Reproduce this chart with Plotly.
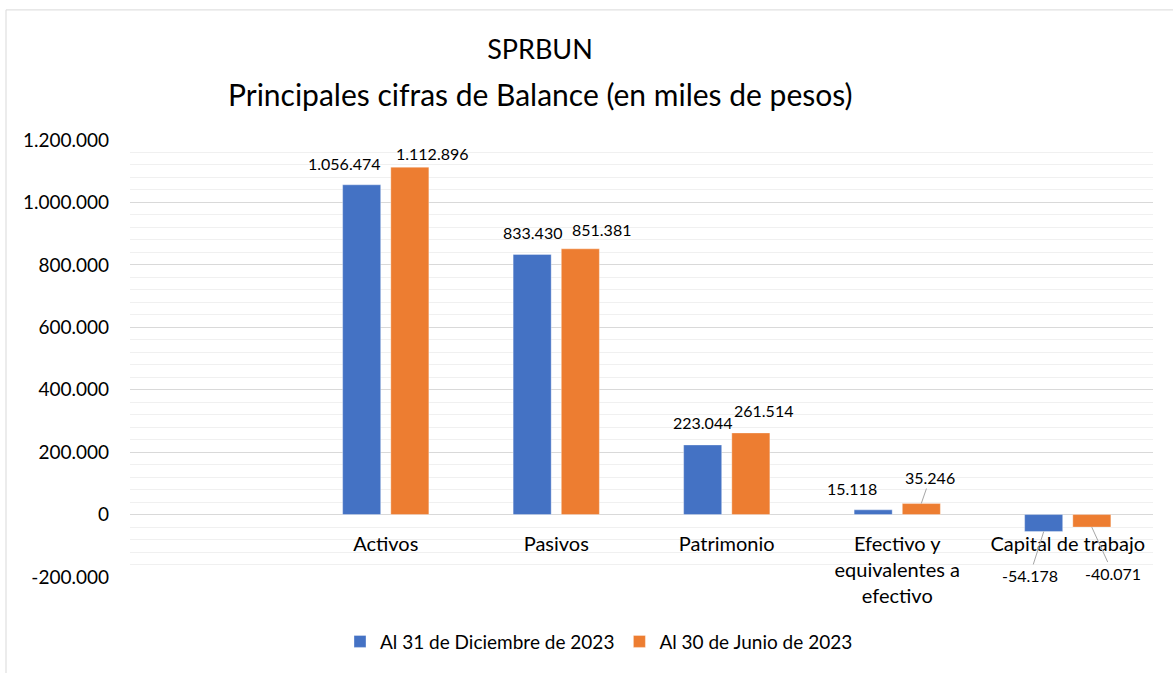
import plotly.graph_objects as go

# ---- data ----
categories = ["Activos", "Pasivos", "Patrimonio",
              "Efectivo y<br>equivalentes a<br>efectivo", "Capital de trabajo"]
dic_2023 = [1056474, 833430, 223044, 15118, -54178]
jun_2023 = [1112896, 851381, 261514, 35246, -40071]
series_names = ["Al 31 de Diciembre de 2023", "Al 30 de Junio de 2023"]
y_tickvals = [-200000, 0, 200000, 400000, 600000, 800000, 1000000, 1200000]
y_ticktext = ["-200.000", "0", "200.000", "400.000", "600.000",
              "800.000", "1.000.000", "1.200.000"]
title_line1 = "SPRBUN"
title_line2 = "Principales cifras de Balance (en miles de pesos)"

# ---- styling ----
FONT = "Lato, Calibri, Carlito, sans-serif"
BLUE = "#4472C4"
ORANGE = "#ED7D31"
W, H = 1173, 673
L, R, T, B = 130, 20, 140, 93
PW, PH = W - L - R, H - T - B
BAR_OFF = 24  # pixel offset of each bar from category centre

# label offsets (dx, dy in px relative to bar end, dy>0 = up); arrow flag
blue_lbl = [(-17, 21, False), (0, 22, False), (0, 22, False), (-21, 21, False), (-14, -44, True)]
orng_lbl = [(23, 14, False), (21, 19, False), (13, 22, False), (9, 26, True), (21, -46, True)]


def fmt(v):
    return f"{v:,}".replace(",", ".")


fig = go.Figure()
fig.add_trace(go.Bar(x=categories, y=dic_2023, name=series_names[0],
                     marker=dict(color=BLUE, line=dict(color="rgba(255,255,255,0.35)", width=1)),
                     hoverinfo="x+y"))
fig.add_trace(go.Bar(x=categories, y=jun_2023, name=series_names[1],
                     marker=dict(color=ORANGE, line=dict(color="rgba(255,255,255,0.35)", width=1)),
                     hoverinfo="x+y"))

annotations = []
for vals, lbls, sign in ((dic_2023, blue_lbl, -1), (jun_2023, orng_lbl, 1)):
    for cat, v, (dx, dy, arrow) in zip(categories, vals, lbls):
        base = dict(x=cat, y=v, xref="x", yref="y", text=fmt(v),
                    font=dict(family=FONT, size=16, color="#000000"))
        if arrow:
            annotations.append(dict(base, showarrow=True, arrowhead=0, arrowwidth=1,
                                    arrowcolor="#a6a6a6", ax=dx, ay=-dy, axref="pixel",
                                    ayref="pixel", xshift=sign * BAR_OFF, standoff=0))
        else:
            annotations.append(dict(base, showarrow=False, xshift=sign * BAR_OFF + dx,
                                    yshift=dy, yanchor="middle", xanchor="center"))

# second title line
annotations.append(dict(text=title_line2, xref="paper", yref="paper",
                        x=(540 - L) / PW, y=(H - B - 94) / PH, xanchor="center",
                        yanchor="middle", showarrow=False,
                        font=dict(family=FONT, size=30, color="#000000")))

fig.update_layout(
    width=W, height=H,
    margin=dict(l=L, r=R, t=T, b=B, pad=0),
    paper_bgcolor="white", plot_bgcolor="white",
    barmode="group", bargap=0.435, bargroupgap=0.21,
    font=dict(family=FONT, color="#000000"),
    title=dict(text=title_line1, x=540 / W, xanchor="center", y=1 - 50 / H,
               yanchor="middle", font=dict(family=FONT, size=27, color="#000000")),
    legend=dict(orientation="h", x=(599 - L) / PW, xanchor="center",
                y=(H - B - 645) / PH, yanchor="middle",
                font=dict(family=FONT, size=19, color="#000000"),
                bgcolor="rgba(0,0,0,0)"),
    annotations=annotations,
    shapes=[dict(type="rect", xref="paper", yref="paper",
                 x0=(6 - L) / PW, x1=(W + 20 - L) / PW,
                 y0=(H - B - (H + 20)) / PH, y1=(H - B - 9) / PH,
                 line=dict(color="#d9d9d9", width=1), fillcolor="rgba(0,0,0,0)",
                 layer="below")],
)

fig.update_xaxes(range=[-1.5, 4.5], anchor="free", position=1 / 7,
                 showline=False, showgrid=False, ticks="", zeroline=False,
                 tickfont=dict(family=FONT, size=20, color="#000000"),
                 ticklabelstandoff=15, tickangle=0)
fig.update_yaxes(range=[-200000, 1200000], tickmode="array", tickvals=y_tickvals,
                 ticktext=y_ticktext, showgrid=True, gridcolor="#d9d9d9", gridwidth=1,
                 zeroline=True, zerolinecolor="#d9d9d9", zerolinewidth=1,
                 showline=False, ticks="", ticklabelstandoff=20,
                 tickfont=dict(family=FONT, size=19, color="#000000"),
                 minor=dict(tickmode="linear", tick0=0, dtick=40000, showgrid=True,
                            gridcolor="#f0f0f0", gridwidth=1))

fig.write_html("out.html", config={"displayModeBar": False},
               post_script="document.body.style.margin='0';document.body.style.padding='0';")
